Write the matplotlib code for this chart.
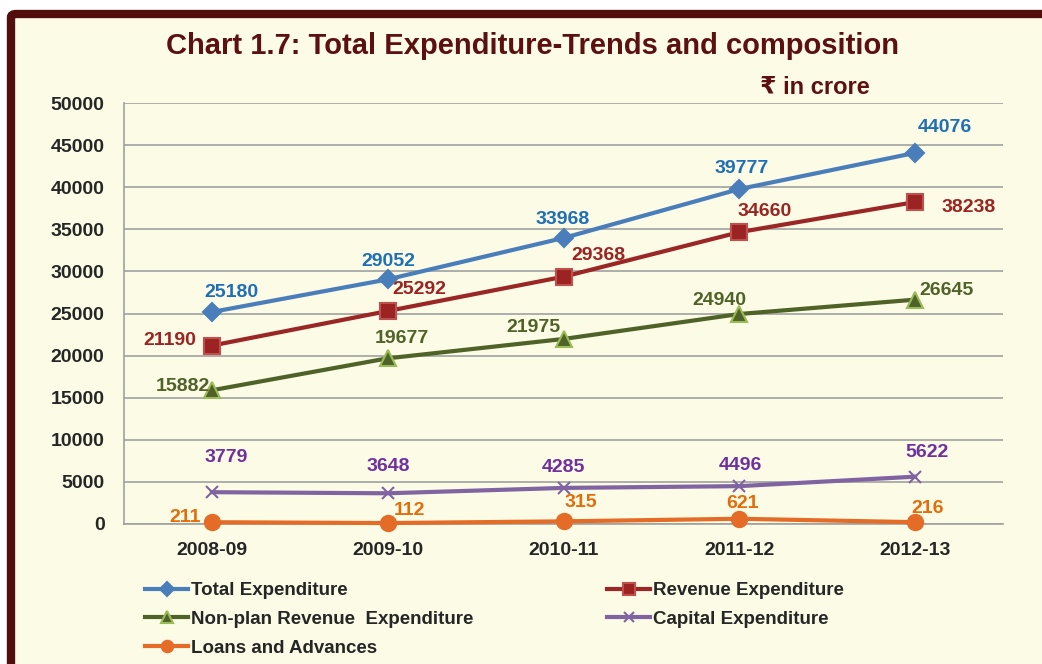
import matplotlib
matplotlib.use("Agg")
import matplotlib.pyplot as plt
from matplotlib.patches import FancyBboxPatch

plt.rcParams['font.family'] = ['Liberation Sans', 'DejaVu Sans']
plt.rcParams['font.weight'] = 'bold'

years = ["2008-09", "2009-10", "2010-11", "2011-12", "2012-13"]
total_exp = [25180, 29052, 33968, 39777, 44076]
revenue_exp = [21190, 25292, 29368, 34660, 38238]
nonplan_rev_exp = [15882, 19677, 21975, 24940, 26645]
capital_exp = [3779, 3648, 4285, 4496, 5622]
loans_adv = [211, 112, 315, 621, 216]
series_names = ["Total Expenditure", "Revenue Expenditure",
                "Non-plan Revenue  Expenditure", "Capital Expenditure",
                "Loans and Advances"]

# label offsets (pixels) relative to each point
off_total = [(20, 19), (1, 18), (-1, 18), (2, 21), (30, 25)]
off_rev = [(-42, 5), (32, 22), (35, 21), (25, 21), (54, -5)]
off_np = [(-29, 4), (14, 20), (-30, 11), (-20, 14), (31, 9)]
off_cap = [(14, 35), (1, 27), (0, 20), (1, 21), (12, 24)]
off_loan = [(-27, 5), (22, 13), (17, 19), (3, 15), (13, 14)]

bg = '#FCFBE6'
border = '#520D0D'

fig = plt.figure(figsize=(10.42, 6.64), dpi=100)
fig.patch.set_facecolor('white')
frame = FancyBboxPatch((11/1042, -0.2), 1.3, 1 - 14/664 + 0.2,
                       boxstyle="round,pad=0,rounding_size=0.005",
                       transform=fig.transFigure, facecolor=bg,
                       edgecolor=border, linewidth=6, zorder=-10)
fig.patches.append(frame)

ax = fig.add_axes([124/1042, 1 - 524/664, (1003-124)/1042, (524-103)/664])
ax.set_facecolor(bg)
x = list(range(len(years)))

styles = [
    (total_exp, '#4A7EBB', 'D', 9, '#4A7EBB', '#4A7EBB', '#1F6FB8', off_total),
    (revenue_exp, '#9A2625', 's', 11, '#9B2423', '#C0504D', '#9B2423', off_rev),
    (nonplan_rev_exp, '#4F6228', '^', 11, '#4F6228', '#9BBB59', '#4F6228', off_np),
    (capital_exp, '#8064A2', 'x', 9, '#8064A2', '#8064A2', '#7030A0', off_cap),
    (loans_adv, '#E46C26', 'o', 11, '#E46C26', '#E46C26', '#E46C0A', off_loan),
]
handles = []
for (vals, col, mk, ms, mfc, mec, lc, offs), name in zip(styles, series_names):
    h, = ax.plot(x, vals, color=col, lw=3, marker=mk, ms=ms, mfc=mfc,
                 mec=mec, mew=1.5, label=name, clip_on=False, zorder=3)
    handles.append(h)
    for xi, v, (dx, dy) in zip(x, vals, offs):
        ax.annotate(str(v), (xi, v), xytext=(dx, dy), textcoords='offset pixels',
                    ha='center', va='center', fontsize=14, fontweight='bold',
                    color=lc, zorder=4)

ax.set_xlim(-0.5, 4.5)
ax.set_ylim(0, 50000)
ax.set_yticks(range(0, 50001, 5000))
ax.set_xticks(x)
ax.set_xticklabels(years)
ax.tick_params(axis='both', length=0, labelsize=14, labelcolor='#262626')
ax.tick_params(axis='y', pad=14)
ax.tick_params(axis='x', pad=13)
for lab in ax.get_xticklabels() + ax.get_yticklabels():
    lab.set_fontweight('bold')
ax.grid(axis='y', color='#A0A0A0', lw=1.2)
ax.set_axisbelow(True)
for s in ['top', 'right']:
    ax.spines[s].set_visible(False)
ax.spines['left'].set_color('#A0A0A0')
ax.spines['bottom'].set_color('#A0A0A0')
ax.spines['left'].set_linewidth(1.2)
ax.spines['bottom'].set_linewidth(1.2)

fig.text(532/1042, 1 - 46/664, "Chart 1.7: Total Expenditure-Trends and composition",
         ha='center', va='center', fontsize=21, fontweight='bold', color='#5C1010')
fig.text(815/1042, 1 - 88/664, "₹ in crore", ha='center', va='center',
         fontsize=17, fontweight='bold', color='#5C1010')

leg_kw = dict(frameon=False, fontsize=13.5, handlelength=2.3, handletextpad=0.15,
              labelspacing=0.62, borderpad=0, borderaxespad=0, loc='upper left',
              labelcolor='#262626', markerscale=0.75)
leg1 = fig.legend([handles[0], handles[2], handles[4]],
                  [series_names[0], series_names[2], series_names[4]],
                  bbox_to_anchor=(145/1042, 1 - 582/664), **leg_kw)
leg2 = fig.legend([handles[1], handles[3]], [series_names[1], series_names[3]],
                  bbox_to_anchor=(607/1042, 1 - 582/664), **leg_kw)
for leg in (leg1, leg2):
    for t in leg.get_texts():
        t.set_fontweight('bold')

fig.savefig('out.png', dpi=100, facecolor='white')
